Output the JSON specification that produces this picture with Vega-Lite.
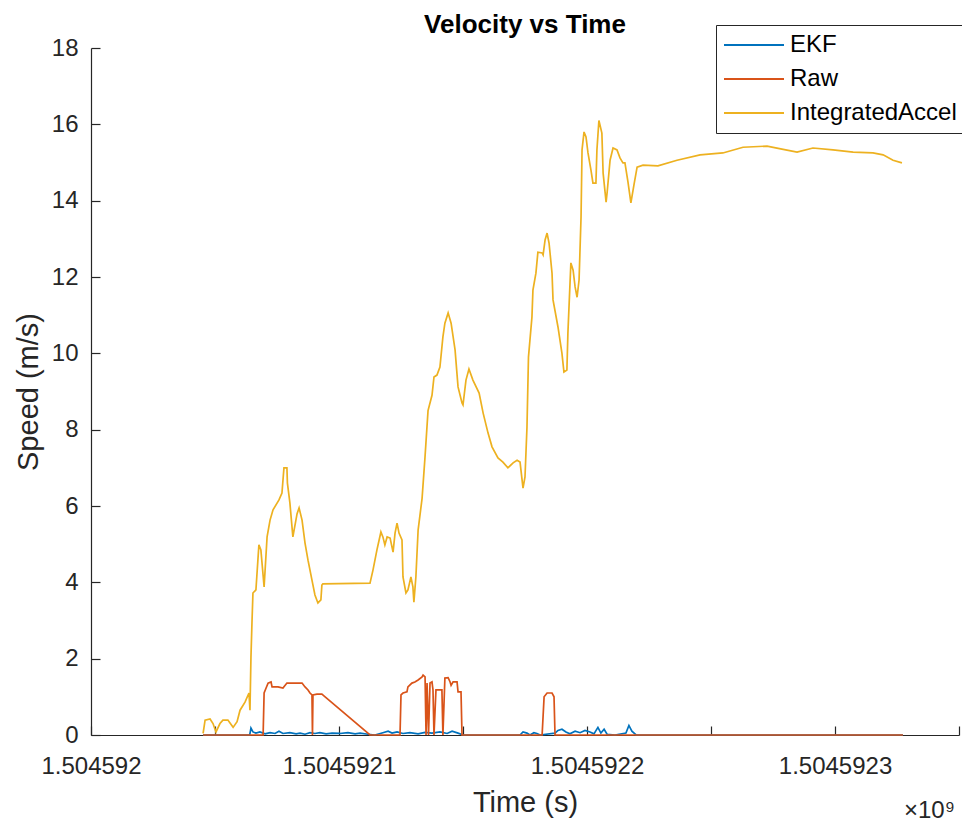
{
  "$schema": "https://vega.github.io/schema/vega-lite/v6.json",
  "width": 868,
  "height": 687,
  "autosize": "none",
  "padding": {"left": 91, "top": 48, "right": 3, "bottom": 88},
  "background": "white",
  "title": {"text": "Velocity vs Time", "fontSize": 26, "fontWeight": "bold", "font": "Liberation Sans", "color": "#000000", "offset": 10, "dy": 23, "anchor": "middle"},
  "config": {
    "view": {"stroke": null},
    "axis": {"domainColor": "#262626", "tickColor": "#262626", "labelColor": "#262626", "labelFont": "Liberation Sans", "labelFontSize": 24, "titleFont": "Liberation Sans", "titleFontSize": 29, "titleFontWeight": "normal", "titleColor": "#262626", "grid": false, "tickSize": -9, "domainWidth": 1.2, "tickWidth": 1.2},
    "legend": {"orient": "none", "legendX": 625, "legendY": -23, "title": null, "strokeColor": "#262626", "fillColor": "white", "padding": 8, "labelFontSize": 24, "labelFont": "Liberation Sans", "labelColor": "#000000", "labelLimit": 400, "symbolType": "M-3,0H3", "symbolSize": 400, "symbolStrokeWidth": 2, "symbolOffset": 18, "labelOffset": 24, "rowPadding": 10}
  },
  "datasets": {
    "speed": [
      {"time": 1504592045.2, "speed": 0, "series": "EKF"},
      {"time": 1504592064.0, "speed": 0, "series": "EKF"},
      {"time": 1504592064.5, "speed": 0.18, "series": "EKF"},
      {"time": 1504592065.3, "speed": 0.08, "series": "EKF"},
      {"time": 1504592066.5, "speed": 0.05, "series": "EKF"},
      {"time": 1504592068.1, "speed": 0.08, "series": "EKF"},
      {"time": 1504592070.2, "speed": 0.03, "series": "EKF"},
      {"time": 1504592072.2, "speed": 0.06, "series": "EKF"},
      {"time": 1504592074.2, "speed": 0.04, "series": "EKF"},
      {"time": 1504592075.8, "speed": 0.1, "series": "EKF"},
      {"time": 1504592077.4, "speed": 0.04, "series": "EKF"},
      {"time": 1504592080.2, "speed": 0.06, "series": "EKF"},
      {"time": 1504592082.7, "speed": 0.03, "series": "EKF"},
      {"time": 1504592084.3, "speed": 0.05, "series": "EKF"},
      {"time": 1504592086.3, "speed": 0.02, "series": "EKF"},
      {"time": 1504592088.3, "speed": 0.06, "series": "EKF"},
      {"time": 1504592090.3, "speed": 0.04, "series": "EKF"},
      {"time": 1504592092.3, "speed": 0.06, "series": "EKF"},
      {"time": 1504592094.8, "speed": 0.03, "series": "EKF"},
      {"time": 1504592097.2, "speed": 0.05, "series": "EKF"},
      {"time": 1504592100.4, "speed": 0.04, "series": "EKF"},
      {"time": 1504592103.6, "speed": 0.06, "series": "EKF"},
      {"time": 1504592106.5, "speed": 0.03, "series": "EKF"},
      {"time": 1504592108.5, "speed": 0.05, "series": "EKF"},
      {"time": 1504592111.7, "speed": 0.02, "series": "EKF"},
      {"time": 1504592114.5, "speed": 0, "series": "EKF"},
      {"time": 1504592117.7, "speed": 0.06, "series": "EKF"},
      {"time": 1504592119.8, "speed": 0.1, "series": "EKF"},
      {"time": 1504592121.4, "speed": 0.05, "series": "EKF"},
      {"time": 1504592123.4, "speed": 0.08, "series": "EKF"},
      {"time": 1504592125.8, "speed": 0.04, "series": "EKF"},
      {"time": 1504592128.6, "speed": 0.06, "series": "EKF"},
      {"time": 1504592131.9, "speed": 0.03, "series": "EKF"},
      {"time": 1504592134.7, "speed": 0.07, "series": "EKF"},
      {"time": 1504592137.5, "speed": 0.05, "series": "EKF"},
      {"time": 1504592140.7, "speed": 0.08, "series": "EKF"},
      {"time": 1504592143.6, "speed": 0.04, "series": "EKF"},
      {"time": 1504592145.6, "speed": 0.1, "series": "EKF"},
      {"time": 1504592148.0, "speed": 0.05, "series": "EKF"},
      {"time": 1504592150.0, "speed": 0, "series": "EKF"},
      {"time": 1504592173.0, "speed": 0, "series": "EKF"},
      {"time": 1504592174.2, "speed": 0.08, "series": "EKF"},
      {"time": 1504592175.8, "speed": 0.05, "series": "EKF"},
      {"time": 1504592177.0, "speed": 0, "series": "EKF"},
      {"time": 1504592178.6, "speed": 0.06, "series": "EKF"},
      {"time": 1504592179.8, "speed": 0.04, "series": "EKF"},
      {"time": 1504592181.1, "speed": 0, "series": "EKF"},
      {"time": 1504592187.1, "speed": 0.05, "series": "EKF"},
      {"time": 1504592188.3, "speed": 0.12, "series": "EKF"},
      {"time": 1504592189.9, "speed": 0.15, "series": "EKF"},
      {"time": 1504592191.5, "speed": 0.08, "series": "EKF"},
      {"time": 1504592193.1, "speed": 0.03, "series": "EKF"},
      {"time": 1504592195.2, "speed": 0.1, "series": "EKF"},
      {"time": 1504592197.2, "speed": 0.06, "series": "EKF"},
      {"time": 1504592199.2, "speed": 0.12, "series": "EKF"},
      {"time": 1504592201.2, "speed": 0.08, "series": "EKF"},
      {"time": 1504592202.8, "speed": 0.03, "series": "EKF"},
      {"time": 1504592204.4, "speed": 0.2, "series": "EKF"},
      {"time": 1504592205.6, "speed": 0.05, "series": "EKF"},
      {"time": 1504592206.9, "speed": 0.15, "series": "EKF"},
      {"time": 1504592208.1, "speed": 0.02, "series": "EKF"},
      {"time": 1504592211.3, "speed": 0, "series": "EKF"},
      {"time": 1504592215.7, "speed": 0.05, "series": "EKF"},
      {"time": 1504592216.9, "speed": 0.25, "series": "EKF"},
      {"time": 1504592218.1, "speed": 0.1, "series": "EKF"},
      {"time": 1504592219.8, "speed": 0, "series": "EKF"},
      {"time": 1504592327.4, "speed": 0, "series": "EKF"},

      {"time": 1504592045.2, "speed": 0, "series": "Raw"},
      {"time": 1504592069.4, "speed": 0, "series": "Raw"},
      {"time": 1504592069.8, "speed": 1.1, "series": "Raw"},
      {"time": 1504592070.6, "speed": 1.23, "series": "Raw"},
      {"time": 1504592071.4, "speed": 1.36, "series": "Raw"},
      {"time": 1504592072.6, "speed": 1.39, "series": "Raw"},
      {"time": 1504592073.0, "speed": 1.26, "series": "Raw"},
      {"time": 1504592075.4, "speed": 1.26, "series": "Raw"},
      {"time": 1504592077.4, "speed": 1.23, "series": "Raw"},
      {"time": 1504592079.0, "speed": 1.36, "series": "Raw"},
      {"time": 1504592085.1, "speed": 1.36, "series": "Raw"},
      {"time": 1504592086.3, "speed": 1.26, "series": "Raw"},
      {"time": 1504592087.5, "speed": 1.18, "series": "Raw"},
      {"time": 1504592088.3, "speed": 1.1, "series": "Raw"},
      {"time": 1504592089.1, "speed": 1.05, "series": "Raw"},
      {"time": 1504592089.3, "speed": 0, "series": "Raw"},
      {"time": 1504592089.5, "speed": 1.05, "series": "Raw"},
      {"time": 1504592091.1, "speed": 1.07, "series": "Raw"},
      {"time": 1504592093.1, "speed": 1.07, "series": "Raw"},
      {"time": 1504592094.4, "speed": 1.0, "series": "Raw"},
      {"time": 1504592112.5, "speed": 0, "series": "Raw"},
      {"time": 1504592124.6, "speed": 0, "series": "Raw"},
      {"time": 1504592125.0, "speed": 1.05, "series": "Raw"},
      {"time": 1504592125.8, "speed": 1.1, "series": "Raw"},
      {"time": 1504592127.4, "speed": 1.13, "series": "Raw"},
      {"time": 1504592127.8, "speed": 1.26, "series": "Raw"},
      {"time": 1504592129.4, "speed": 1.36, "series": "Raw"},
      {"time": 1504592130.6, "speed": 1.39, "series": "Raw"},
      {"time": 1504592131.9, "speed": 1.44, "series": "Raw"},
      {"time": 1504592133.5, "speed": 1.52, "series": "Raw"},
      {"time": 1504592133.9, "speed": 1.57, "series": "Raw"},
      {"time": 1504592134.7, "speed": 1.52, "series": "Raw"},
      {"time": 1504592135.1, "speed": 0, "series": "Raw"},
      {"time": 1504592135.5, "speed": 1.36, "series": "Raw"},
      {"time": 1504592136.1, "speed": 0, "series": "Raw"},
      {"time": 1504592136.7, "speed": 1.36, "series": "Raw"},
      {"time": 1504592137.5, "speed": 1.39, "series": "Raw"},
      {"time": 1504592137.9, "speed": 1.18, "series": "Raw"},
      {"time": 1504592138.3, "speed": 0, "series": "Raw"},
      {"time": 1504592139.1, "speed": 1.18, "series": "Raw"},
      {"time": 1504592141.5, "speed": 1.18, "series": "Raw"},
      {"time": 1504592141.9, "speed": 0, "series": "Raw"},
      {"time": 1504592142.7, "speed": 1.49, "series": "Raw"},
      {"time": 1504592144.0, "speed": 1.5, "series": "Raw"},
      {"time": 1504592144.8, "speed": 1.39, "series": "Raw"},
      {"time": 1504592145.2, "speed": 1.3, "series": "Raw"},
      {"time": 1504592146.0, "speed": 1.39, "series": "Raw"},
      {"time": 1504592147.6, "speed": 1.39, "series": "Raw"},
      {"time": 1504592148.0, "speed": 1.13, "series": "Raw"},
      {"time": 1504592149.2, "speed": 1.13, "series": "Raw"},
      {"time": 1504592149.6, "speed": 0, "series": "Raw"},
      {"time": 1504592181.9, "speed": 0, "series": "Raw"},
      {"time": 1504592182.7, "speed": 1.0, "series": "Raw"},
      {"time": 1504592183.9, "speed": 1.1, "series": "Raw"},
      {"time": 1504592185.9, "speed": 1.1, "series": "Raw"},
      {"time": 1504592186.7, "speed": 1.0, "series": "Raw"},
      {"time": 1504592187.1, "speed": 0, "series": "Raw"},
      {"time": 1504592327.4, "speed": 0, "series": "Raw"},

      {"time": 1504592045.2, "speed": 0.04, "series": "IntegratedAccel"},
      {"time": 1504592046.0, "speed": 0.39, "series": "IntegratedAccel"},
      {"time": 1504592048.0, "speed": 0.42, "series": "IntegratedAccel"},
      {"time": 1504592049.2, "speed": 0.3, "series": "IntegratedAccel"},
      {"time": 1504592050.4, "speed": 0.08, "series": "IntegratedAccel"},
      {"time": 1504592052.0, "speed": 0.3, "series": "IntegratedAccel"},
      {"time": 1504592053.2, "speed": 0.39, "series": "IntegratedAccel"},
      {"time": 1504592055.2, "speed": 0.39, "series": "IntegratedAccel"},
      {"time": 1504592057.3, "speed": 0.2, "series": "IntegratedAccel"},
      {"time": 1504592058.9, "speed": 0.35, "series": "IntegratedAccel"},
      {"time": 1504592060.1, "speed": 0.65, "series": "IntegratedAccel"},
      {"time": 1504592062.1, "speed": 0.86, "series": "IntegratedAccel"},
      {"time": 1504592063.7, "speed": 1.1, "series": "IntegratedAccel"},
      {"time": 1504592064.1, "speed": 0.65, "series": "IntegratedAccel"},
      {"time": 1504592064.5, "speed": 2.04, "series": "IntegratedAccel"},
      {"time": 1504592064.9, "speed": 2.93, "series": "IntegratedAccel"},
      {"time": 1504592065.3, "speed": 3.72, "series": "IntegratedAccel"},
      {"time": 1504592066.5, "speed": 3.8, "series": "IntegratedAccel"},
      {"time": 1504592067.7, "speed": 4.98, "series": "IntegratedAccel"},
      {"time": 1504592068.5, "speed": 4.85, "series": "IntegratedAccel"},
      {"time": 1504592069.8, "speed": 3.88, "series": "IntegratedAccel"},
      {"time": 1504592071.0, "speed": 5.19, "series": "IntegratedAccel"},
      {"time": 1504592072.2, "speed": 5.63, "series": "IntegratedAccel"},
      {"time": 1504592073.4, "speed": 5.9, "series": "IntegratedAccel"},
      {"time": 1504592075.8, "speed": 6.16, "series": "IntegratedAccel"},
      {"time": 1504592077.0, "speed": 6.34, "series": "IntegratedAccel"},
      {"time": 1504592077.8, "speed": 7.0, "series": "IntegratedAccel"},
      {"time": 1504592079.0, "speed": 7.0, "series": "IntegratedAccel"},
      {"time": 1504592079.2, "speed": 6.6, "series": "IntegratedAccel"},
      {"time": 1504592080.2, "speed": 6.08, "series": "IntegratedAccel"},
      {"time": 1504592081.4, "speed": 5.19, "series": "IntegratedAccel"},
      {"time": 1504592083.1, "speed": 5.8, "series": "IntegratedAccel"},
      {"time": 1504592083.9, "speed": 5.95, "series": "IntegratedAccel"},
      {"time": 1504592085.1, "speed": 5.63, "series": "IntegratedAccel"},
      {"time": 1504592086.3, "speed": 5.03, "series": "IntegratedAccel"},
      {"time": 1504592087.5, "speed": 4.58, "series": "IntegratedAccel"},
      {"time": 1504592089.1, "speed": 4.06, "series": "IntegratedAccel"},
      {"time": 1504592090.3, "speed": 3.67, "series": "IntegratedAccel"},
      {"time": 1504592091.5, "speed": 3.46, "series": "IntegratedAccel"},
      {"time": 1504592092.7, "speed": 3.54, "series": "IntegratedAccel"},
      {"time": 1504592093.1, "speed": 3.93, "series": "IntegratedAccel"},
      {"time": 1504592093.5, "speed": 3.96, "series": "IntegratedAccel"},
      {"time": 1504592112.5, "speed": 3.98, "series": "IntegratedAccel"},
      {"time": 1504592113.7, "speed": 4.32, "series": "IntegratedAccel"},
      {"time": 1504592115.3, "speed": 4.85, "series": "IntegratedAccel"},
      {"time": 1504592116.9, "speed": 5.32, "series": "IntegratedAccel"},
      {"time": 1504592117.7, "speed": 5.19, "series": "IntegratedAccel"},
      {"time": 1504592118.5, "speed": 4.98, "series": "IntegratedAccel"},
      {"time": 1504592119.4, "speed": 5.19, "series": "IntegratedAccel"},
      {"time": 1504592120.6, "speed": 5.16, "series": "IntegratedAccel"},
      {"time": 1504592121.8, "speed": 4.79, "series": "IntegratedAccel"},
      {"time": 1504592122.6, "speed": 5.29, "series": "IntegratedAccel"},
      {"time": 1504592123.4, "speed": 5.55, "series": "IntegratedAccel"},
      {"time": 1504592124.2, "speed": 5.29, "series": "IntegratedAccel"},
      {"time": 1504592125.4, "speed": 5.11, "series": "IntegratedAccel"},
      {"time": 1504592125.8, "speed": 4.14, "series": "IntegratedAccel"},
      {"time": 1504592127.0, "speed": 3.72, "series": "IntegratedAccel"},
      {"time": 1504592127.8, "speed": 3.8, "series": "IntegratedAccel"},
      {"time": 1504592129.0, "speed": 4.14, "series": "IntegratedAccel"},
      {"time": 1504592129.8, "speed": 3.88, "series": "IntegratedAccel"},
      {"time": 1504592130.2, "speed": 3.48, "series": "IntegratedAccel"},
      {"time": 1504592131.0, "speed": 4.14, "series": "IntegratedAccel"},
      {"time": 1504592131.9, "speed": 5.37, "series": "IntegratedAccel"},
      {"time": 1504592133.5, "speed": 6.2, "series": "IntegratedAccel"},
      {"time": 1504592134.7, "speed": 7.3, "series": "IntegratedAccel"},
      {"time": 1504592135.9, "speed": 8.5, "series": "IntegratedAccel"},
      {"time": 1504592137.5, "speed": 8.9, "series": "IntegratedAccel"},
      {"time": 1504592138.3, "speed": 9.38, "series": "IntegratedAccel"},
      {"time": 1504592139.5, "speed": 9.43, "series": "IntegratedAccel"},
      {"time": 1504592140.7, "speed": 9.64, "series": "IntegratedAccel"},
      {"time": 1504592141.9, "speed": 10.43, "series": "IntegratedAccel"},
      {"time": 1504592142.7, "speed": 10.79, "series": "IntegratedAccel"},
      {"time": 1504592144.0, "speed": 11.06, "series": "IntegratedAccel"},
      {"time": 1504592145.2, "speed": 10.79, "series": "IntegratedAccel"},
      {"time": 1504592146.8, "speed": 10.09, "series": "IntegratedAccel"},
      {"time": 1504592148.0, "speed": 9.12, "series": "IntegratedAccel"},
      {"time": 1504592149.6, "speed": 8.7, "series": "IntegratedAccel"},
      {"time": 1504592150.0, "speed": 8.65, "series": "IntegratedAccel"},
      {"time": 1504592151.2, "speed": 9.3, "series": "IntegratedAccel"},
      {"time": 1504592152.4, "speed": 9.59, "series": "IntegratedAccel"},
      {"time": 1504592154.0, "speed": 9.3, "series": "IntegratedAccel"},
      {"time": 1504592156.5, "speed": 8.96, "series": "IntegratedAccel"},
      {"time": 1504592158.1, "speed": 8.44, "series": "IntegratedAccel"},
      {"time": 1504592160.1, "speed": 7.91, "series": "IntegratedAccel"},
      {"time": 1504592161.7, "speed": 7.55, "series": "IntegratedAccel"},
      {"time": 1504592164.1, "speed": 7.26, "series": "IntegratedAccel"},
      {"time": 1504592166.1, "speed": 7.15, "series": "IntegratedAccel"},
      {"time": 1504592168.1, "speed": 7.0, "series": "IntegratedAccel"},
      {"time": 1504592170.2, "speed": 7.13, "series": "IntegratedAccel"},
      {"time": 1504592171.8, "speed": 7.2, "series": "IntegratedAccel"},
      {"time": 1504592173.0, "speed": 7.15, "series": "IntegratedAccel"},
      {"time": 1504592174.2, "speed": 6.47, "series": "IntegratedAccel"},
      {"time": 1504592175.0, "speed": 6.76, "series": "IntegratedAccel"},
      {"time": 1504592175.8, "speed": 8.07, "series": "IntegratedAccel"},
      {"time": 1504592176.4, "speed": 9.9, "series": "IntegratedAccel"},
      {"time": 1504592177.8, "speed": 10.95, "series": "IntegratedAccel"},
      {"time": 1504592178.2, "speed": 11.66, "series": "IntegratedAccel"},
      {"time": 1504592179.4, "speed": 12.1, "series": "IntegratedAccel"},
      {"time": 1504592180.2, "speed": 12.65, "series": "IntegratedAccel"},
      {"time": 1504592181.9, "speed": 12.63, "series": "IntegratedAccel"},
      {"time": 1504592182.3, "speed": 12.58, "series": "IntegratedAccel"},
      {"time": 1504592183.1, "speed": 12.97, "series": "IntegratedAccel"},
      {"time": 1504592183.9, "speed": 13.15, "series": "IntegratedAccel"},
      {"time": 1504592184.7, "speed": 12.89, "series": "IntegratedAccel"},
      {"time": 1504592185.9, "speed": 12.1, "series": "IntegratedAccel"},
      {"time": 1504592186.3, "speed": 11.4, "series": "IntegratedAccel"},
      {"time": 1504592188.3, "speed": 10.69, "series": "IntegratedAccel"},
      {"time": 1504592189.9, "speed": 10.0, "series": "IntegratedAccel"},
      {"time": 1504592190.7, "speed": 9.51, "series": "IntegratedAccel"},
      {"time": 1504592191.9, "speed": 9.56, "series": "IntegratedAccel"},
      {"time": 1504592192.3, "speed": 10.53, "series": "IntegratedAccel"},
      {"time": 1504592193.5, "speed": 12.37, "series": "IntegratedAccel"},
      {"time": 1504592194.4, "speed": 12.18, "series": "IntegratedAccel"},
      {"time": 1504592195.2, "speed": 11.74, "series": "IntegratedAccel"},
      {"time": 1504592196.0, "speed": 11.47, "series": "IntegratedAccel"},
      {"time": 1504592196.8, "speed": 11.92, "series": "IntegratedAccel"},
      {"time": 1504592197.6, "speed": 13.57, "series": "IntegratedAccel"},
      {"time": 1504592198.0, "speed": 15.33, "series": "IntegratedAccel"},
      {"time": 1504592198.8, "speed": 15.8, "series": "IntegratedAccel"},
      {"time": 1504592199.6, "speed": 15.67, "series": "IntegratedAccel"},
      {"time": 1504592200.4, "speed": 15.25, "series": "IntegratedAccel"},
      {"time": 1504592201.6, "speed": 14.8, "series": "IntegratedAccel"},
      {"time": 1504592202.4, "speed": 14.46, "series": "IntegratedAccel"},
      {"time": 1504592203.6, "speed": 14.46, "series": "IntegratedAccel"},
      {"time": 1504592204.0, "speed": 15.33, "series": "IntegratedAccel"},
      {"time": 1504592204.8, "speed": 16.1, "series": "IntegratedAccel"},
      {"time": 1504592206.0, "speed": 15.77, "series": "IntegratedAccel"},
      {"time": 1504592206.5, "speed": 14.72, "series": "IntegratedAccel"},
      {"time": 1504592207.7, "speed": 13.96, "series": "IntegratedAccel"},
      {"time": 1504592208.1, "speed": 14.2, "series": "IntegratedAccel"},
      {"time": 1504592209.3, "speed": 15.06, "series": "IntegratedAccel"},
      {"time": 1504592210.5, "speed": 15.38, "series": "IntegratedAccel"},
      {"time": 1504592212.1, "speed": 15.33, "series": "IntegratedAccel"},
      {"time": 1504592213.3, "speed": 15.12, "series": "IntegratedAccel"},
      {"time": 1504592214.5, "speed": 14.99, "series": "IntegratedAccel"},
      {"time": 1504592215.3, "speed": 14.99, "series": "IntegratedAccel"},
      {"time": 1504592216.5, "speed": 14.5, "series": "IntegratedAccel"},
      {"time": 1504592217.7, "speed": 13.94, "series": "IntegratedAccel"},
      {"time": 1504592218.9, "speed": 14.4, "series": "IntegratedAccel"},
      {"time": 1504592220.2, "speed": 14.88, "series": "IntegratedAccel"},
      {"time": 1504592222.6, "speed": 14.93, "series": "IntegratedAccel"},
      {"time": 1504592228.6, "speed": 14.91, "series": "IntegratedAccel"},
      {"time": 1504592236.3, "speed": 15.06, "series": "IntegratedAccel"},
      {"time": 1504592245.6, "speed": 15.2, "series": "IntegratedAccel"},
      {"time": 1504592254.8, "speed": 15.25, "series": "IntegratedAccel"},
      {"time": 1504592262.9, "speed": 15.4, "series": "IntegratedAccel"},
      {"time": 1504592272.6, "speed": 15.43, "series": "IntegratedAccel"},
      {"time": 1504592278.6, "speed": 15.35, "series": "IntegratedAccel"},
      {"time": 1504592284.7, "speed": 15.27, "series": "IntegratedAccel"},
      {"time": 1504592291.1, "speed": 15.38, "series": "IntegratedAccel"},
      {"time": 1504592299.2, "speed": 15.33, "series": "IntegratedAccel"},
      {"time": 1504592307.3, "speed": 15.27, "series": "IntegratedAccel"},
      {"time": 1504592315.3, "speed": 15.25, "series": "IntegratedAccel"},
      {"time": 1504592319.4, "speed": 15.2, "series": "IntegratedAccel"},
      {"time": 1504592323.4, "speed": 15.06, "series": "IntegratedAccel"},
      {"time": 1504592327.0, "speed": 14.99, "series": "IntegratedAccel"}
    ],
    "note": [{"time": 1504592350, "speed": 0, "label": "×10⁹"}]
  },
  "encoding": {
    "x": {"field": "time", "type": "quantitative", "title": "Time (s)",
      "scale": {"domain": [1504592000, 1504592350], "nice": false, "zero": false},
      "axis": {"values": [1504592000, 1504592050, 1504592100, 1504592150, 1504592200, 1504592250, 1504592300, 1504592350],
        "labelExpr": "datum.value % 100 == 0 ? format(datum.value / 1e9, '.7~f') : ''",
        "labelPadding": 28, "titlePadding": 10, "labelFlush": false, "labelOverlap": false}},
    "y": {"field": "speed", "type": "quantitative", "title": "Speed (m/s)",
      "scale": {"domain": [0, 18], "nice": false},
      "axis": {"values": [0, 2, 4, 6, 8, 10, 12, 14, 16, 18], "labelPadding": 22, "titlePadding": 8, "labelFlush": false}}
  },
  "layer": [
    {"data": {"name": "speed"}, "transform": [{"filter": "datum.series == 'EKF'"}],
      "mark": {"type": "line", "strokeWidth": 1.7},
      "encoding": {"color": {"field": "series", "type": "nominal", "scale": {"domain": ["EKF", "Raw", "IntegratedAccel"], "range": ["#0072BD", "#D95319", "#EDB120"]}, "legend": {}}}},
    {"data": {"name": "speed"}, "transform": [{"filter": "datum.series == 'Raw'"}],
      "mark": {"type": "line", "strokeWidth": 1.7},
      "encoding": {"color": {"field": "series", "type": "nominal"}}},
    {"data": {"name": "speed"}, "transform": [{"filter": "datum.series == 'IntegratedAccel'"}],
      "mark": {"type": "line", "strokeWidth": 1.7},
      "encoding": {"color": {"field": "series", "type": "nominal"}}},
    {"data": {"name": "note"},
      "mark": {"type": "text", "align": "right", "baseline": "middle", "dy": 76, "dx": -4, "fontSize": 24, "font": "Liberation Sans", "color": "#262626"},
      "encoding": {"text": {"field": "label"}}}
  ]
}
